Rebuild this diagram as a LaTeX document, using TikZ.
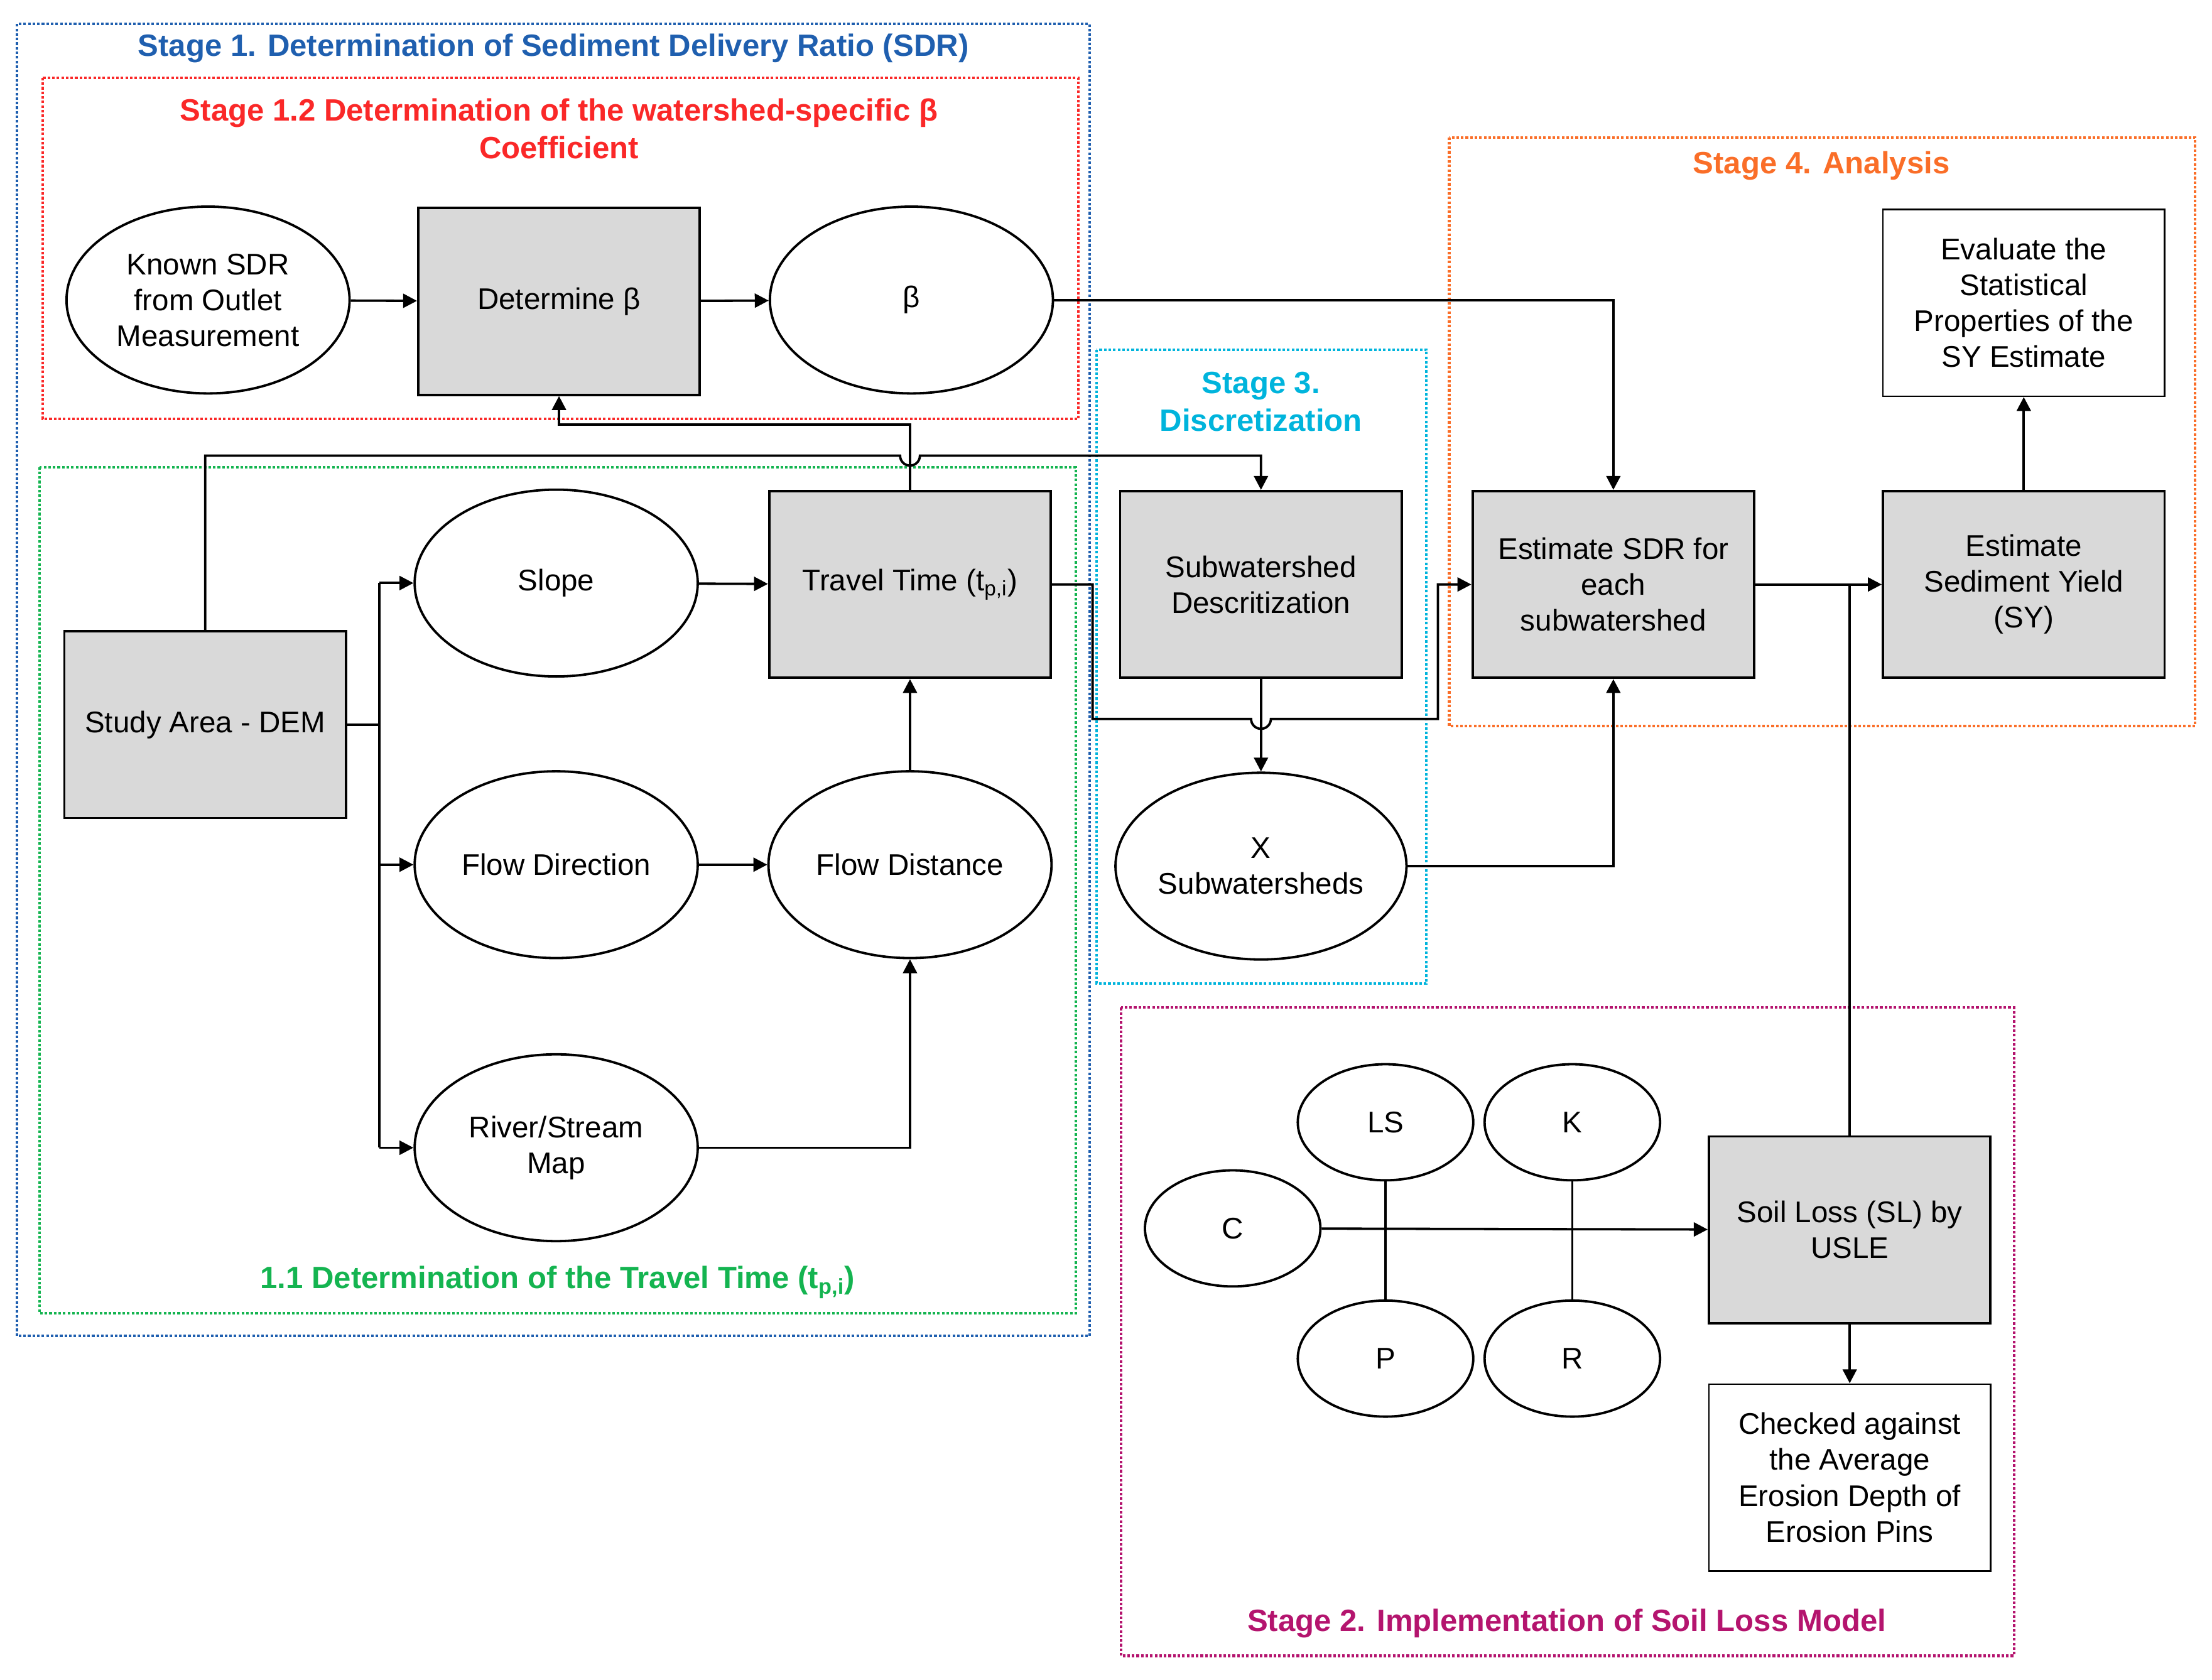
\documentclass[tikz,border=0pt]{standalone}
\usepackage{fontspec}
\setmainfont{Liberation Sans}
\usetikzlibrary{arrows.meta,shapes.geometric}
\definecolor{sblue}{RGB}{31,95,175}
\definecolor{sred}{RGB}{250,40,40}
\definecolor{sgreen}{RGB}{20,180,80}
\definecolor{scyan}{RGB}{0,180,220}
\definecolor{sorange}{RGB}{250,110,40}
\definecolor{smag}{RGB}{180,20,110}
\begin{document}
\begin{tikzpicture}[x=0.025cm,y=-0.025cm,
  every node/.style={font=\fontsize{15}{18}\selectfont},
  box/.style={draw,line width=1.2pt,fill=gray!30,minimum width=199*0.025cm,minimum height=132*0.025cm,align=center,inner sep=1pt},
  wbox/.style={draw,line width=0.8pt,fill=white,minimum width=199*0.025cm,minimum height=132*0.025cm,align=center,inner sep=1pt},
  ell/.style={draw,line width=1.2pt,ellipse,minimum width=200*0.025cm,minimum height=132*0.025cm,align=center,inner sep=0pt},
  sell/.style={draw,line width=1.2pt,ellipse,minimum width=124*0.025cm,minimum height=82*0.025cm,inner sep=0pt},
  ar/.style={line width=1.2pt,-{Triangle[length=7pt,width=7pt]}},
  ln/.style={line width=1.2pt},
  frm/.style={densely dotted,line width=1.3pt},
  ttl/.style={font=\fontsize{15.5}{19}\selectfont\bfseries,align=center}]
\useasboundingbox (0,0) rectangle (1563,1187);
% frames
\draw[frm,sblue] (12,17) rectangle (770,944);
\draw[frm,sred] (30,55) rectangle (762,296);
\draw[frm,sgreen] (28,330) rectangle (760,928);
\draw[frm,scyan] (775,247) rectangle (1008,695);
\draw[frm,sorange] (1024,97) rectangle (1551,513);
\draw[frm,smag] (792,712) rectangle (1423,1170);
\node[ttl,sblue] (t1) at (391,34) {Stage 1. Determination of Sediment Delivery Ratio (SDR)};
\node[ttl,sred] (t12) at (395,91) {Stage 1.2 Determination of the watershed-specific β\\Coefficient};
\node[ttl,sgreen] (t11) at (394,906) {1.1 Determination of the Travel Time (t\textsubscript{p,i})};
\node[ttl,scyan] (t3) at (891,284) {Stage 3.\\Discretization};
\node[ttl,sorange] (t4) at (1287,117) {Stage 4. Analysis};
\node[ttl,smag] (t2) at (1107,1147) {Stage 2. Implementation of Soil Loss Model};
% nodes
\node[ell] (known) at (147,212) {Known SDR\\from Outlet\\Measurement};
\node[box] (det) at (395,213) {Determine β};
\node[ell] (beta) at (644,212) {β};
\node[box] (study) at (145,512) {Study Area - DEM};
\node[ell] (slope) at (393,412) {Slope};
\node[ell] (fdir) at (393,611) {Flow Direction};
\node[ell] (river) at (393,811) {River/Stream\\Map};
\node[box] (tt) at (643,413) {Travel Time (t\textsubscript{p,i})};
\node[ell] (fdist) at (643,611) {Flow Distance};
\node[box] (sub) at (891,413) {Subwatershed\\Descritization};
\node[ell] (xs) at (891,612) {X\\Subwatersheds};
\node[box] (esdr) at (1140,413) {Estimate SDR for\\each\\subwatershed};
\node[box] (esy) at (1430,413) {Estimate\\Sediment Yield\\(SY)};
\node[wbox] (eval) at (1430,214) {Evaluate the\\Statistical\\Properties of the\\SY Estimate};
\node[sell] (ls) at (979,793) {LS};
\node[sell] (k) at (1111,793) {K};
\node[sell] (c) at (871,868) {C};
\node[sell] (p) at (979,960) {P};
\node[sell] (r) at (1111,960) {R};
\node[box] (sl) at (1307,869) {Soil Loss (SL) by\\USLE};
\node[wbox] (chk) at (1307,1044) {Checked against\\the Average\\Erosion Depth of\\Erosion Pins};
% connectors
\draw[ar] (known) -- (det);
\draw[ar] (det) -- (beta);
\draw[ar] (beta.east) -| (esdr.north);
\draw[ar] (tt.north) -- (643,300) -| (det.south);
\draw[ar] (study.north) |- (636,322) arc (180:0:7) -- (891,322) -- (sub.north);
\coordinate (bus) at (268,512);
\draw[ln] (study.east) -- (bus);
\draw[ln] (268,412) -- (268,811);
\draw[ar] (268,412) -- (slope.west);
\draw[ar] (268,611) -- (fdir.west);
\draw[ar] (268,811) -- (river.west);
\draw[ar] (slope) -- (tt);
\draw[ar] (fdir) -- (fdist);
\draw[ar] (fdist) -- (tt);
\draw[ar] (river.east) -| (fdist.south);
\draw[ar] (tt.east) -- (772,413) -- (772,508) -- (884,508) arc (180:0:7) -- (1016,508) -- (1016,413) -- (esdr.west);
\draw[ar] (sub) -- (xs);
\draw[ar] (xs.east) -| (esdr.south);
\draw[ar] (esdr) -- (esy);
\draw[ln] (sl.north) -- (1307,413);
\draw[ar] (esy) -- (eval);
\draw[ar] (c) -- (sl);
\draw[ln] (ls) -- (p);
\draw[ln] (k) -- (r);
\draw[ar] (sl) -- (chk);
\end{tikzpicture}
\end{document}
